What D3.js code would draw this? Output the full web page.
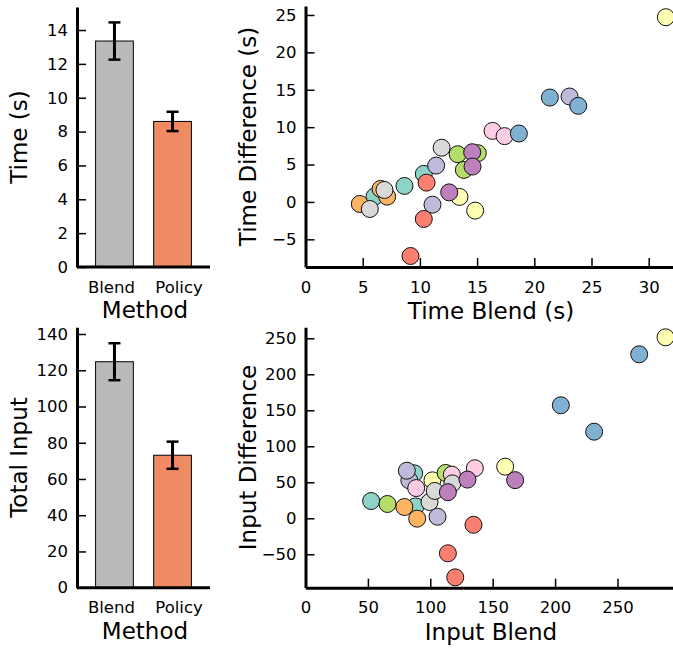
<!DOCTYPE html>
<html>
<head>
<meta charset="utf-8">
<script src="https://cdn.jsdelivr.net/npm/d3@7"></script>
<style>
  body { margin: 0; background: #fff; }
  svg { display: block; font-family: "DejaVu Sans", sans-serif; }
  .axis .domain { stroke: #000; stroke-width: 3; }
  .axis .tick line { stroke: #000; stroke-width: 1.5; }
  .axis text { font-size: 16.5px; fill: #000; font-family: "DejaVu Sans", sans-serif; }
  .title { font-size: 23px; fill: #000; }
</style>
</head>
<body>
<div id="chart"></div>
<script>
// bar data
const methods = ["Blend", "Policy"]
const barColors = ["#bababa", "#ef8a62"]
const timeMean = [13.35, 8.6]
const timeErr = [1.1, 0.57]
const inputMean = [124.7, 73.1]
const inputErr = [10.2, 7.5]

// subject colours (Set3)
const subjectColors = ["#8dd3c7", "#ffffb3", "#bebada", "#fb8072", "#80b1d3",
    "#fdb462", "#b3de69", "#fccde5", "#d9d9d9", "#bc80bd"]

// scatter, top: time blend vs time difference (draw order)
const timeBlend = [6.03, 8.65, 10.34, 31.5, 13.46, 14.83, 11.42, 11.1, 23.08,
    9.18, 10.58, 10.34, 21.36, 23.84, 4.75, 6.56, 7.14, 13.3, 15.06, 13.84,
    16.35, 17.4, 18.65, 5.62, 6.9, 11.9, 12.56, 14.57, 14.6]
const timeDiff = [0.71, 2.14, 3.75, 24.7, 0.67, -1.16, 4.86, -0.36, 14.1,
    -7.23, 2.58, -2.28, 13.96, 12.85, -0.27, 1.74, 0.71, 6.38, 6.52, 4.28,
    9.5, 8.8, 9.15, -0.94, 1.6, 7.25, 1.28, 6.65, 4.73]
const timeSubject = [0, 0, 0, 1, 1, 1, 2, 2, 2, 3, 3, 3, 4, 4, 5, 5, 5, 6, 6, 6,
    7, 7, 4, 8, 8, 8, 9, 9, 9]

// scatter, bottom: input blend vs input difference (draw order)
const inputBlend = [52.6, 88.2, 87.1, 288.5, 160, 101.7, 83.2, 81.2, 105.8,
    134.6, 114.1, 120, 267.4, 204.6, 231.3, 79.2, 89.5, 65.7, 112.3,
    88.7, 117.3, 135.7, 99.4, 103.6, 117.7, 114.1, 129.8, 168]
const inputDiff = [24, 16.5, 62.5, 251.4, 71.7, 52.7, 52.7, 66.1, 2.2,
    -9, -48.6, -82, 227.8, 157, 120.3, 15.7, -0.5, 19.9, 63,
    42, 60.6, 69.6, 22.6, 38, 48.5, 36.3, 53.8, 53]
const inputSubject = [0, 0, 0, 1, 1, 1, 2, 2, 2, 3, 3, 3, 4, 4, 4, 5, 5, 6, 6,
    7, 7, 7, 8, 8, 8, 9, 9, 9]

const timeTicks = [0, 2, 4, 6, 8, 10, 12, 14]
const inputTicks = [0, 20, 40, 60, 80, 100, 120, 140]
const timeDiffTicks = [-5, 0, 5, 10, 15, 20, 25]
const timeBlendTicks = [0, 5, 10, 15, 20, 25, 30]
const inputDiffTicks = [-50, 0, 50, 100, 150, 200, 250]
const inputBlendTicks = [0, 50, 100, 150, 200, 250]

const svg = d3.select("#chart").append("svg")
    .attr("width", 673)
    .attr("height", 650)

function barPanel(o) {
    let g = svg.append("g")
    let x = d3.scaleBand().domain(methods).range([o.left, o.right])
        .paddingInner(0.35).paddingOuter(0.32)
    let y = d3.scaleLinear().domain(o.ydom).range([o.bottom, o.top])
    // tick labels sit a little off the bar centres in the original
    let xl = d3.scalePoint().domain(methods)
        .range([x("Blend") + x.bandwidth() / 2 - 3.5, x("Policy") + x.bandwidth() / 2 + 6])

    g.selectAll("rect.bar").data(methods).join("rect")
        .attr("class", "bar")
        .attr("x", d => x(d))
        .attr("width", x.bandwidth())
        .attr("y", (d, i) => y(o.mean[i]))
        .attr("height", (d, i) => y(0) - y(o.mean[i]))
        .attr("fill", (d, i) => barColors[i])
        .attr("stroke", "#000")
        .attr("stroke-width", 1)

    let cx = d => x(d) + x.bandwidth() / 2
    g.selectAll("line.err").data(methods).join("line")
        .attr("x1", cx).attr("x2", cx)
        .attr("y1", (d, i) => y(o.mean[i] - o.err[i]))
        .attr("y2", (d, i) => y(o.mean[i] + o.err[i]))
        .attr("stroke", "#000").attr("stroke-width", 3)
    for (let s of [-1, 1]) {
        g.selectAll("line.cap" + s).data(methods).join("line")
            .attr("x1", d => cx(d) - 6).attr("x2", d => cx(d) + 6)
            .attr("y1", (d, i) => y(o.mean[i] + s * o.err[i]))
            .attr("y2", (d, i) => y(o.mean[i] + s * o.err[i]))
            .attr("stroke", "#000").attr("stroke-width", 2.5)
    }

    let xa = g.append("g").attr("class", "axis")
        .attr("transform", `translate(0,${o.bottom})`)
        .call(d3.axisBottom(xl).tickSize(0).tickPadding(14))
    xa.select(".domain").attr("d", `M${o.left},0H${o.right}`)
    g.append("g").attr("class", "axis")
        .attr("transform", `translate(${o.left},0)`)
        .call(d3.axisLeft(y).tickValues(o.ticks).tickSizeInner(-9).tickSizeOuter(0).tickPadding(9))

    g.append("text").attr("class", "title")
        .attr("x", 145).attr("y", o.bottom + 51)
        .attr("text-anchor", "middle").text("Method")
    g.append("text").attr("class", "title")
        .attr("transform", `translate(${o.left - 50},${(o.top + o.bottom) / 2}) rotate(-90)`)
        .attr("text-anchor", "middle").text(o.ylabel)
}

function scatterPanel(o) {
    let g = svg.append("g")
    let x = d3.scaleLinear().domain(o.xdom).range([o.left, o.right])
    let y = d3.scaleLinear().domain(o.ydom).range([o.bottom, o.top])

    g.append("g").attr("class", "axis")
        .attr("transform", `translate(0,${o.bottom})`)
        .call(d3.axisBottom(x).tickValues(o.xticks).tickSizeInner(-9).tickSizeOuter(0).tickPadding(14))
    g.append("g").attr("class", "axis")
        .attr("transform", `translate(${o.left},0)`)
        .call(d3.axisLeft(y).tickValues(o.yticks).tickSizeInner(-9).tickSizeOuter(0).tickPadding(9))

    g.selectAll("circle").data(o.xs).join("circle")
        .attr("cx", d => x(d))
        .attr("cy", (d, i) => y(o.ys[i]))
        .attr("r", 8.5)
        .attr("fill", (d, i) => subjectColors[o.subj[i]])
        .attr("stroke", "#111")
        .attr("stroke-width", 1)

    g.append("text").attr("class", "title")
        .attr("x", 491).attr("y", o.bottom + 52)
        .attr("text-anchor", "middle").text(o.xlabel)
    g.append("text").attr("class", "title")
        .attr("transform", `translate(${o.left - 49.5},${(o.top + o.bottom) / 2}) rotate(-90)`)
        .attr("text-anchor", "middle").text(o.ylabel)
}

barPanel({ left: 77, right: 210, top: 7, bottom: 267, ydom: [0, 15.36],
    mean: timeMean, err: timeErr, ticks: timeTicks, ylabel: "Time (s)" })
barPanel({ left: 77, right: 210, top: 327.3, bottom: 587.7, ydom: [0, 143.7],
    mean: inputMean, err: inputErr, ticks: inputTicks, ylabel: "Total Input" })

scatterPanel({ left: 305.5, right: 678, top: 6, bottom: 267,
    xdom: [0, 32.56], ydom: [-8.7, 26.2],
    xs: timeBlend, ys: timeDiff, subj: timeSubject,
    xticks: timeBlendTicks, yticks: timeDiffTicks,
    xlabel: "Time Blend (s)", ylabel: "Time Difference (s)" })
scatterPanel({ left: 305.5, right: 678, top: 327.3, bottom: 587.7,
    xdom: [0, 298.5], ydom: [-96.4, 265.3],
    xs: inputBlend, ys: inputDiff, subj: inputSubject,
    xticks: inputBlendTicks, yticks: inputDiffTicks,
    xlabel: "Input Blend", ylabel: "Input Difference" })
</script>
</body>
</html>
